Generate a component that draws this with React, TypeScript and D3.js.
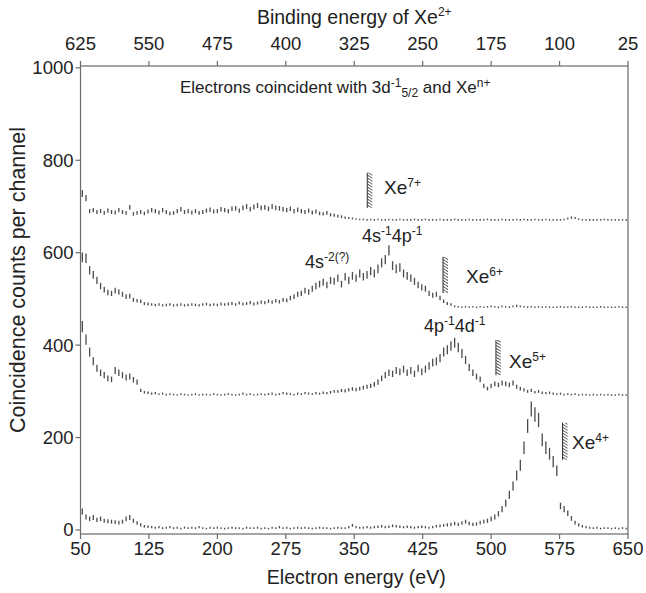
import React from "react";
import * as d3 from "d3";

const WIDTH = 646;
const HEIGHT = 593;
const MARGIN = { top: 66, right: 18, bottom: 59, left: 80.5 };
const FONT = "'Liberation Sans', Arial, Helvetica, sans-serif";

// channel grid (eV)
const energies = d3.range(52, 650, 4);

const bottomTicks = [50, 125, 200, 275, 350, 425, 500, 575, 650];
const topTicks = [625, 550, 475, 400, 325, 250, 175, 100, 25];
const yTicks = [0, 200, 400, 600, 800, 1000];

// counts per channel, already shifted by the plot offsets
const xe4 = [
  40, 28, 24, 27, 22, 24, 20, 19, 18, 17,
  16, 18, 24, 27, 20, 15, 11, 8, 7, 6,
  5, 6, 4, 5, 6, 4, 5, 3, 5, 4,
  5, 4, 6, 4, 3, 5, 4, 5, 4, 3,
  4, 5, 4, 4, 3, 5, 4, 4, 5, 3,
  4, 3, 5, 4, 6, 4, 5, 3, 4, 5,
  4, 5, 4, 3, 4, 5, 4, 4, 3, 4,
  5, 4, 4, 6, 10, 6, 5, 5, 6, 5,
  6, 7, 8, 6, 7, 9, 8, 7, 6, 7,
  6, 5, 6, 7, 6, 5, 6, 8, 9, 10,
  11, 12, 14, 12, 15, 18, 14, 12, 13, 16,
  18, 20, 24, 28, 35, 45, 58, 76, 95, 118,
  140, 178, 225, 262, 250, 238, 195, 178, 165, 148,
  128, 52, 45, 36, 25, 16, 11, 8, 6, 5,
  4, 5, 3, 4, 4, 3, 4, 3, 4, 3,
];

const xe5 = [
  440, 412, 385, 365, 350, 340, 335, 328, 326, 345,
  340, 335, 330, 332, 325, 320, 302, 298, 297, 295,
  296, 294, 295, 293, 294, 293, 292, 294, 293, 292,
  293, 294, 292, 293, 293, 292, 294, 293, 292, 293,
  294, 293, 292, 293, 295, 293, 294, 292, 293, 294,
  293, 294, 295, 293, 294, 296, 295, 294, 293, 295,
  294, 296, 295, 294, 296, 295, 297, 296, 298, 300,
  300, 302, 301, 303, 305, 304, 306, 308, 310, 312,
  315, 320, 328, 335, 340, 338, 345, 342, 348, 340,
  345, 338, 350, 342, 348, 355, 362, 365, 372, 385,
  390, 398, 405, 395, 382, 368, 352, 340, 332, 326,
  312, 306, 312, 316, 314, 318, 316, 314, 318, 310,
  306, 303, 300, 302, 298, 300, 297, 296, 297, 295,
  294, 295, 293, 294, 293, 294, 292, 293, 293, 292,
  293, 292, 293, 292, 293, 292, 292, 293, 292, 292,
];

const xe6 = [
  590, 588, 562, 552, 540, 528, 520, 514, 512, 518,
  515, 510, 505, 506, 498, 496, 495, 490, 489, 488,
  487, 488, 486, 487, 488, 486, 487, 488, 486, 487,
  488, 487, 486, 488, 489, 487, 488, 487, 489, 488,
  489, 490, 488, 491, 489, 490, 492, 489, 491, 493,
  492, 495, 493, 496, 494, 498, 497, 502, 505, 510,
  512, 518, 515, 522, 528, 532, 536, 530, 540, 538,
  545, 532, 548, 540, 550, 545, 555, 548, 552, 560,
  555, 565, 578, 585, 605, 572, 565, 568, 555, 550,
  545, 538, 530, 525, 522, 512, 508, 510, 502, 495,
  490, 488, 484, 483, 482, 483, 482, 483, 482, 483,
  482, 483, 484, 483, 482, 484, 483, 482, 484, 485,
  484, 483, 482, 483, 482, 483, 482, 483, 482, 482,
  482, 483, 482, 482, 483, 482, 482, 482, 483, 482,
  482, 482, 483, 482, 482, 482, 482, 483, 482, 482,
];

const xe7 = [
  728, 718, 690, 692, 688, 690, 686, 691, 688, 687,
  692, 688, 686, 698, 684, 686, 688, 685, 689, 692,
  690, 687, 692, 688, 685, 686, 690, 694, 688, 690,
  687, 690, 686, 688, 691, 693, 689, 690, 694, 692,
  690, 695, 696, 691, 697, 700, 694, 699, 702, 697,
  698, 695, 700, 697, 696, 694, 692, 695, 690, 693,
  690, 688, 691, 687, 689, 685, 684, 686, 682, 681,
  679, 678, 676, 675, 674, 673, 672, 672, 671, 672,
  671, 672, 671, 671, 672, 671, 671, 672, 671, 671,
  671, 672, 671, 671, 672, 671, 671, 671, 672, 671,
  671, 671, 672, 671, 671, 671, 672, 671, 671, 671,
  671, 672, 671, 671, 671, 672, 671, 671, 671, 672,
  671, 672, 671, 671, 672, 671, 671, 672, 671, 671,
  671, 671, 672, 674, 676, 675, 673, 671, 671, 671,
  671, 671, 671, 672, 671, 671, 671, 671, 671, 671,
];

const seriesValues = [xe4, xe5, xe6, xe7];
const seriesOffsets = [0, 290, 480, 670];

// threshold markers: energy, lower and upper count
const markerEnergy = [581, 508, 450, 367];
const markerLow = [152, 335, 513, 697];
const markerHigh = [232, 411, 591, 773];

export default function App() {
  const innerW = WIDTH - MARGIN.left - MARGIN.right;
  const innerH = HEIGHT - MARGIN.top - MARGIN.bottom;
  const x = d3.scaleLinear().domain([50, 650]).range([0, innerW]);
  const xTop = d3.scaleLinear().domain([625, 25]).range([0, innerW]);
  const y = d3.scaleLinear().domain([-8.7, 1004]).range([innerH, 0]);

  const axisColor = "#6a6a6a";
  const textColor = "#222";

  const bars = seriesValues.map((vals, si) =>
    vals.map((v, i) => {
      const half = Math.sqrt(Math.max(v - seriesOffsets[si], 1));
      let y1 = y(v + half);
      let y2 = y(v - half);
      if (y2 - y1 < 1.6) {
        const m = (y1 + y2) / 2;
        y1 = m - 0.8;
        y2 = m + 0.8;
      }
      const px = x(energies[i]);
      return (
        <line key={`${si}-${i}`} x1={px} x2={px} y1={y1} y2={y2} stroke="#4a4a4a" strokeWidth={1.3} />
      );
    })
  );

  const tickSize = 18.5;
  const titleSize = 19.5;
  const supSize = 12;

  return (
    <svg width={WIDTH} height={HEIGHT} style={{ position: "absolute", left: 0, top: 0, background: "#fff" }} fontFamily={FONT}>
      <defs>
        <pattern id="hatch" width="5" height="3" patternUnits="userSpaceOnUse">
          <line x1="0" y1="0" x2="5" y2="3" stroke="#333" strokeWidth={1} />
        </pattern>
      </defs>
      {/* titles */}
      <text x={MARGIN.left + innerW / 2} y={24} textAnchor="middle" fontSize={titleSize} fill={textColor}>
        Binding energy of Xe<tspan fontSize={12} dy={-8}>2+</tspan>
      </text>
      <text x={MARGIN.left + innerW / 2 + 2} y={584} textAnchor="middle" fontSize={titleSize} fill={textColor}>
        Electron energy (eV)
      </text>
      <text
        transform={`translate(25, 280) rotate(-90)`}
        textAnchor="middle"
        fontSize={21.5}
        fill={textColor}
      >
        Coincidence counts per channel
      </text>

      <g transform={`translate(${MARGIN.left},${MARGIN.top})`}>
        <rect x={0} y={0} width={innerW} height={innerH} fill="none" stroke={axisColor} strokeWidth={1.2} />
        {bottomTicks.map((t) => (
          <g key={`b${t}`} transform={`translate(${x(t)},${innerH})`}>
            <line y2={5} stroke={axisColor} strokeWidth={1.2} />
            <text y={21} textAnchor="middle" fontSize={tickSize} fill={textColor}>{t}</text>
          </g>
        ))}
        {topTicks.map((t) => (
          <g key={`t${t}`} transform={`translate(${xTop(t)},0)`}>
            <line y2={-5} stroke={axisColor} strokeWidth={1.2} />
            <text y={-16} textAnchor="middle" fontSize={tickSize} fill={textColor}>{t}</text>
          </g>
        ))}
        {yTicks.map((t) => (
          <g key={`y${t}`} transform={`translate(0,${y(t)})`}>
            <line x2={-5} stroke={axisColor} strokeWidth={1.2} />
            <text x={-7} dy="0.35em" textAnchor="end" fontSize={tickSize} fill={textColor}>{t}</text>
          </g>
        ))}

        {bars}

        {markerEnergy.map((e, i) => (
          <g key={`m${i}`}>
            <rect x={x(e) - 2.5} y={y(markerHigh[i])} width={5} height={y(markerLow[i]) - y(markerHigh[i])} fill="url(#hatch)" />
            <line x1={x(e) - 2.5} x2={x(e) - 2.5} y1={y(markerHigh[i])} y2={y(markerLow[i])} stroke="#333" strokeWidth={1} />
          </g>
        ))}
      </g>

      {/* annotations */}
      <g fill={textColor} fontSize={18}>
        <text x={180} y={93} fontSize={17}>
          Electrons coincident with 3d<tspan fontSize={supSize} dy={-6}>-1</tspan>
          <tspan fontSize={supSize} dy={10}>5/2</tspan>
          <tspan dy={-4}> and Xe</tspan>
          <tspan fontSize={supSize} dy={-6}>n+</tspan>
        </text>
        <g fontSize={19}>
          <text x={384} y={194}>Xe<tspan fontSize={supSize} dy={-7}>7+</tspan></text>
          <text x={466} y={283}>Xe<tspan fontSize={supSize} dy={-7}>6+</tspan></text>
          <text x={509} y={368}>Xe<tspan fontSize={supSize} dy={-7}>5+</tspan></text>
          <text x={572} y={449}>Xe<tspan fontSize={supSize} dy={-7}>4+</tspan></text>
        </g>
        <text x={362} y={242}>
          4s<tspan fontSize={supSize} dy={-7}>-1</tspan><tspan dy={7}>4p</tspan><tspan fontSize={supSize} dy={-7}>-1</tspan>
        </text>
        <text x={305} y={268}>
          4s<tspan fontSize={supSize} dy={-7}>-2(?)</tspan>
        </text>
        <text x={424} y={332}>
          4p<tspan fontSize={supSize} dy={-7}>-1</tspan><tspan dy={7}>4d</tspan><tspan fontSize={supSize} dy={-7}>-1</tspan>
        </text>
      </g>
    </svg>
  );
}
